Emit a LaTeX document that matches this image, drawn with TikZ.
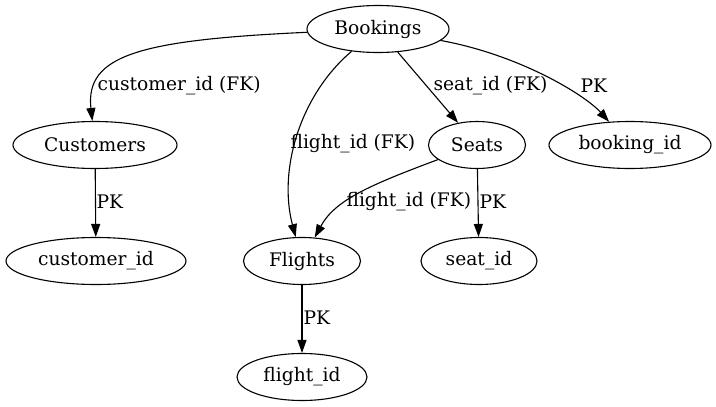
\documentclass[tikz,border=0pt]{standalone}
\usepackage{fontspec}
\setmainfont{DejaVu Serif}
\usepackage{xcolor}
\definecolor{cLine}{HTML}{000000}
\usepackage{tikz}
\usetikzlibrary{positioning,arrows.meta,shapes.geometric}
\tikzset{
  node-table/.style={draw=cLine,ellipse,inner sep=0pt,
    minimum height=47pt,align=center},
  node-key/.style={node-table},
  edge-label/.style={anchor=west,inner sep=1pt},
  arrow/.style={-{Triangle[length=13pt,width=9pt]},line width=1.1pt,draw=cLine},
}

\begin{document}
\begin{tikzpicture}[x=1pt,y=-1pt,line width=1.1pt,
  every node/.style={font=\fontsize{18.67}{22}\selectfont}]
  \useasboundingbox (0,0) rectangle (716,407);
  % tables
  \node[node-table,minimum width=142pt] (bookings)  at (378,29)  {Bookings};
  \node[node-table,minimum width=164pt] (customers) at (95,145)  {Customers};
  \node[node-table,minimum width=97pt]  (seats)     at (477,145) {Seats};
  \node[node-table,minimum width=117pt] (flights)   at (302,261) {Flights};
  % keys
  \node[node-key,minimum width=162pt] (bookingid)  at (630,145) {booking\_id};
  \node[node-key,minimum width=180pt] (customerid) at (96,261)  {customer\_id};
  \node[node-key,minimum width=116pt] (seatid)     at (479,261) {seat\_id};
  \node[node-key,minimum width=130pt] (flightid)   at (302,377) {flight\_id};
  % edges
  \draw[arrow] (bookings) .. controls (140,40) and (85,55) .. (customers);
  \draw[arrow] (bookings) .. controls (300,95) and (278,170) .. (flights);
  \draw[arrow] (bookings) -- (seats);
  \draw[arrow] (bookings) .. controls (520,55) and (585,95) .. (bookingid);
  \draw[arrow] (customers) -- (customerid);
  \draw[arrow] (seats) .. controls (370,185) and (335,200) .. (flights);
  \draw[arrow] (seats) -- (seatid);
  \draw[arrow] (flights) -- (flightid);
  % edge labels
  \node[edge-label] (lcust)  at (96,86)   {customer\_id (FK)};
  \node[edge-label] (lfl1)   at (289,144) {flight\_id (FK)};
  \node[edge-label] (lseat)  at (432,86)  {seat\_id (FK)};
  \node[edge-label] (lpkb)   at (579,86)  {PK};
  \node[edge-label] (lpkc)   at (95,202)  {PK};
  \node[edge-label] (lfl2)   at (345,202) {flight\_id (FK)};
  \node[edge-label] (lpks)   at (478,202) {PK};
  \node[edge-label] (lpkf)   at (302,318) {PK};
\end{tikzpicture}
\end{document}
